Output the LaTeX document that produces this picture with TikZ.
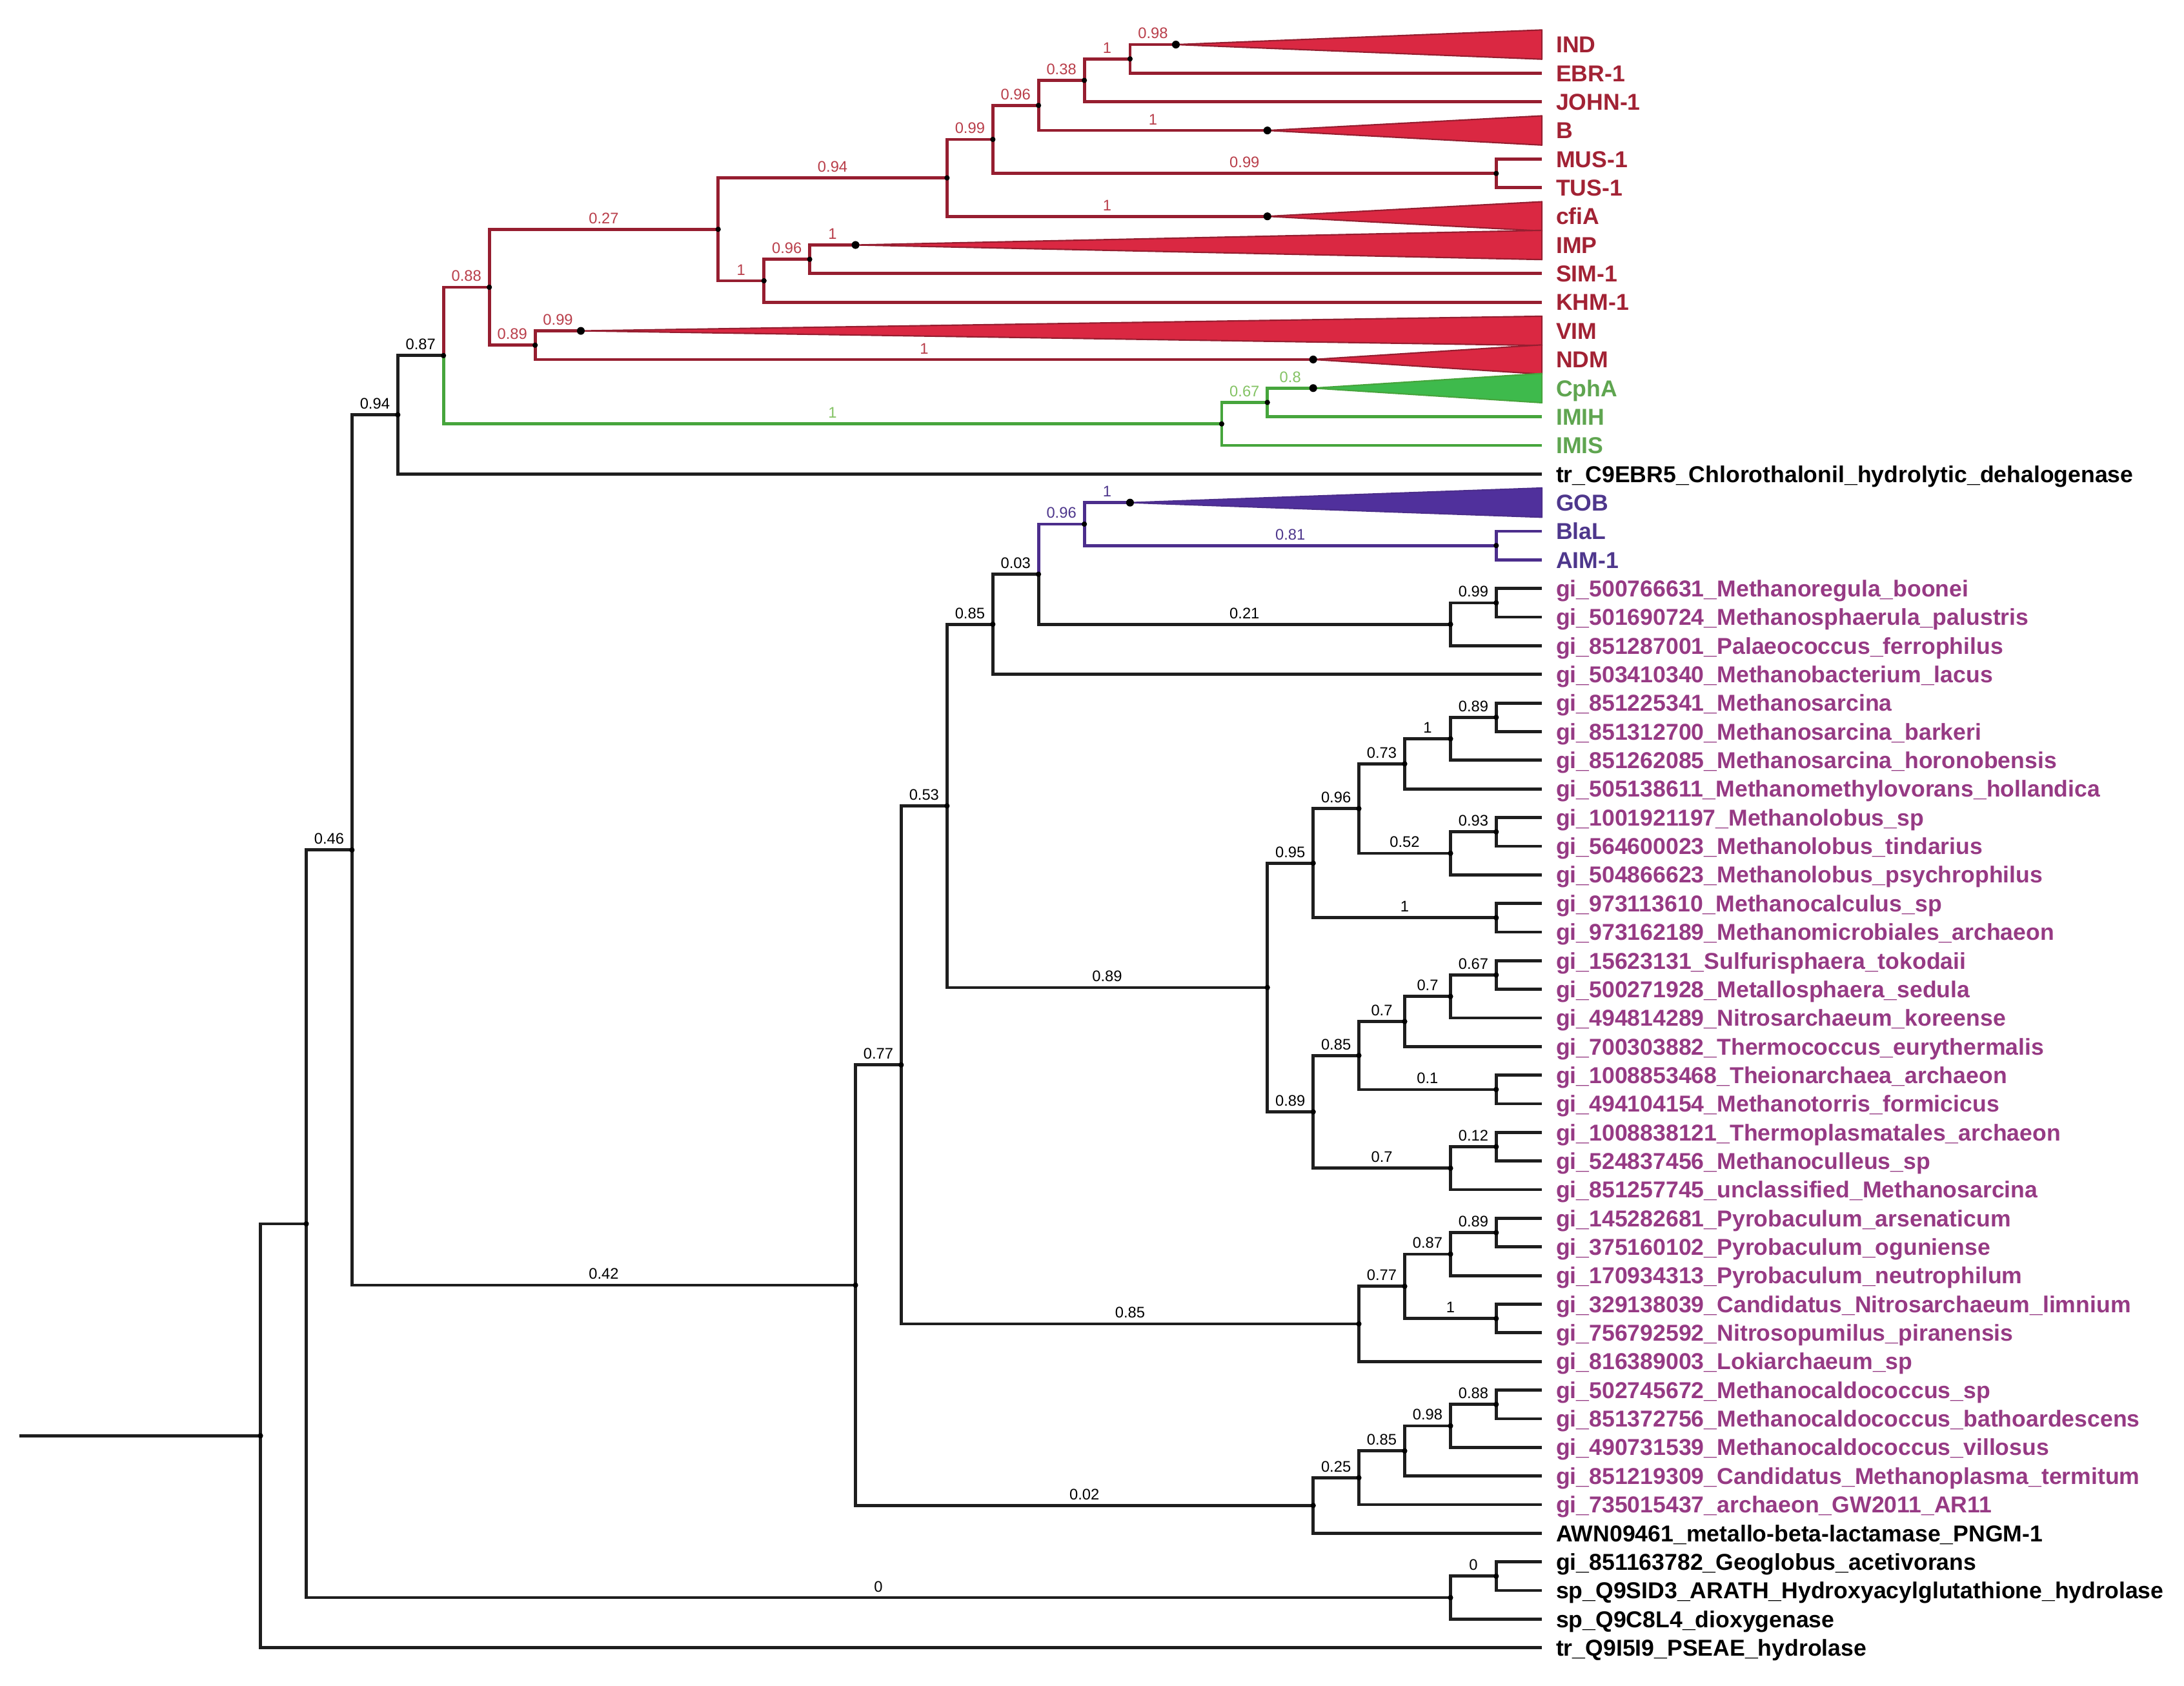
\documentclass[tikz,border=0pt]{standalone}
\usepackage{fontspec}
\setmainfont{Liberation Sans}
\definecolor{blackbr}{RGB}{30,30,30}
\definecolor{cladered}{RGB}{150,30,48}
\definecolor{trired}{RGB}{218,40,66}
\definecolor{labred}{RGB}{162,34,52}
\definecolor{supred}{RGB}{185,62,74}
\definecolor{cladegreen}{RGB}{70,165,60}
\definecolor{trigreen}{RGB}{62,186,76}
\definecolor{labgreen}{RGB}{95,165,80}
\definecolor{supgreen}{RGB}{132,195,100}
\definecolor{cladepurple}{RGB}{76,46,140}
\definecolor{tripurple}{RGB}{80,48,156}
\definecolor{labpurple}{RGB}{78,55,140}
\definecolor{labmagenta}{RGB}{150,58,132}

\begin{document}
\begin{tikzpicture}[x=1pt, y=-1pt,
    br/.style ={line width=2.2pt, draw=blackbr},
    redbr/.style ={br, draw=cladered},
    greenbr/.style ={br, draw=cladegreen},
    purplebr/.style ={br, draw=cladepurple},
    redtri/.style ={fill=trired, draw=cladered, line width=1pt, line join=round},
    greentri/.style ={fill=trigreen, draw=cladegreen, line width=1pt, line join=round},
    purpletri/.style ={fill=tripurple, draw=cladepurple, line width=1pt, line join=round},
    leaf/.style ={anchor=west, inner xsep=10pt, inner ysep=0pt, text height=11.8pt,
      text depth=0pt, font=\bfseries\fontsize{16.5}{18}\selectfont},
    sup/.style ={pos=0.75, above=3pt, inner sep=0pt, font=\fontsize{11}{12}\selectfont}]
   \path[fill=white, use as bounding box] (0,0) rectangle (1568,1210);

   % leaves
   \node[leaf, text=labred] (ind)  at (1107,32.00)  {IND};
   \node[leaf, text=labred] (ebr)  at (1107,52.55)  {EBR-1};
   \node[leaf, text=labred] (john) at (1107,73.10)  {JOHN-1};
   \node[leaf, text=labred] (b)    at (1107,93.65)  {B};
   \node[leaf, text=labred] (mus)  at (1107,114.20) {MUS-1};
   \node[leaf, text=labred] (tus)  at (1107,134.75) {TUS-1};
   \node[leaf, text=labred] (cfia) at (1107,155.30) {cfiA};
   \node[leaf, text=labred] (imp)  at (1107,175.85) {IMP};
   \node[leaf, text=labred] (sim)  at (1107,196.40) {SIM-1};
   \node[leaf, text=labred] (khm)  at (1107,216.95) {KHM-1};
   \node[leaf, text=labred] (vim)  at (1107,237.50) {VIM};
   \node[leaf, text=labred] (ndm)  at (1107,258.05) {NDM};
   \node[leaf, text=labgreen] (cpha) at (1107,278.60) {CphA};
   \node[leaf, text=labgreen] (imih) at (1107,299.15) {IMIH};
   \node[leaf, text=labgreen] (imis) at (1107,319.70) {IMIS};
   \node[leaf] (chlor) at (1107,340.25) {tr\_C9EBR5\_Chlorothalonil\_hydrolytic\_dehalogenase};
   \node[leaf, text=labpurple] (gob)  at (1107,360.80) {GOB};
   \node[leaf, text=labpurple] (blal) at (1107,381.35) {BlaL};
   \node[leaf, text=labpurple] (aim)  at (1107,401.90) {AIM-1};
   \node[leaf, text=labmagenta] (boonei)    at (1107,422.45) {gi\_500766631\_Methanoregula\_boonei};
   \node[leaf, text=labmagenta] (palustris) at (1107,443.00) {gi\_501690724\_Methanosphaerula\_palustris};
   \node[leaf, text=labmagenta] (ferro)     at (1107,463.55) {gi\_851287001\_Palaeococcus\_ferrophilus};
   \node[leaf, text=labmagenta] (lacus)     at (1107,484.10) {gi\_503410340\_Methanobacterium\_lacus};
   \node[leaf, text=labmagenta] (msarc)     at (1107,504.65) {gi\_851225341\_Methanosarcina};
   \node[leaf, text=labmagenta] (barkeri)   at (1107,525.20) {gi\_851312700\_Methanosarcina\_barkeri};
   \node[leaf, text=labmagenta] (horono)    at (1107,545.75) {gi\_851262085\_Methanosarcina\_horonobensis};
   \node[leaf, text=labmagenta] (holland)   at (1107,566.30) {gi\_505138611\_Methanomethylovorans\_hollandica};
   \node[leaf, text=labmagenta] (mlobsp)    at (1107,586.85) {gi\_1001921197\_Methanolobus\_sp};
   \node[leaf, text=labmagenta] (tindar)    at (1107,607.40) {gi\_564600023\_Methanolobus\_tindarius};
   \node[leaf, text=labmagenta] (psychro)   at (1107,627.95) {gi\_504866623\_Methanolobus\_psychrophilus};
   \node[leaf, text=labmagenta] (mcalc)     at (1107,648.50) {gi\_973113610\_Methanocalculus\_sp};
   \node[leaf, text=labmagenta] (mmicro)    at (1107,669.05) {gi\_973162189\_Methanomicrobiales\_archaeon};
   \node[leaf, text=labmagenta] (tokod)     at (1107,689.60) {gi\_15623131\_Sulfurisphaera\_tokodaii};
   \node[leaf, text=labmagenta] (sedula)    at (1107,710.15) {gi\_500271928\_Metallosphaera\_sedula};
   \node[leaf, text=labmagenta] (koreen)    at (1107,730.70) {gi\_494814289\_Nitrosarchaeum\_koreense};
   \node[leaf, text=labmagenta] (euryth)    at (1107,751.25) {gi\_700303882\_Thermococcus\_eurythermalis};
   \node[leaf, text=labmagenta] (theion)    at (1107,771.80) {gi\_1008853468\_Theionarchaea\_archaeon};
   \node[leaf, text=labmagenta] (formic)    at (1107,792.35) {gi\_494104154\_Methanotorris\_formicicus};
   \node[leaf, text=labmagenta] (tplasm)    at (1107,812.90) {gi\_1008838121\_Thermoplasmatales\_archaeon};
   \node[leaf, text=labmagenta] (mcull)     at (1107,833.45) {gi\_524837456\_Methanoculleus\_sp};
   \node[leaf, text=labmagenta] (unclass)   at (1107,854.00) {gi\_851257745\_unclassified\_Methanosarcina};
   \node[leaf, text=labmagenta] (arsen)     at (1107,874.55) {gi\_145282681\_Pyrobaculum\_arsenaticum};
   \node[leaf, text=labmagenta] (ogun)      at (1107,895.10) {gi\_375160102\_Pyrobaculum\_oguniense};
   \node[leaf, text=labmagenta] (neutro)    at (1107,915.65) {gi\_170934313\_Pyrobaculum\_neutrophilum};
   \node[leaf, text=labmagenta] (limn)      at (1107,936.20) {gi\_329138039\_Candidatus\_Nitrosarchaeum\_limnium};
   \node[leaf, text=labmagenta] (piran)     at (1107,956.75) {gi\_756792592\_Nitrosopumilus\_piranensis};
   \node[leaf, text=labmagenta] (loki)      at (1107,977.30) {gi\_816389003\_Lokiarchaeum\_sp};
   \node[leaf, text=labmagenta] (mcaldsp)   at (1107,997.85) {gi\_502745672\_Methanocaldococcus\_sp};
   \node[leaf, text=labmagenta] (bathoa)    at (1107,1018.40) {gi\_851372756\_Methanocaldococcus\_bathoardescens};
   \node[leaf, text=labmagenta] (villos)    at (1107,1038.95) {gi\_490731539\_Methanocaldococcus\_villosus};
   \node[leaf, text=labmagenta] (termit)    at (1107,1059.50) {gi\_851219309\_Candidatus\_Methanoplasma\_termitum};
   \node[leaf, text=labmagenta] (ar11)      at (1107,1080.05) {gi\_735015437\_archaeon\_GW2011\_AR11};
   \node[leaf] (pngm)    at (1107,1100.60) {AWN09461\_metallo-beta-lactamase\_PNGM-1};
   \node[leaf] (geoglob) at (1107,1121.15) {gi\_851163782\_Geoglobus\_acetivorans};
   \node[leaf] (hagh)    at (1107,1141.70) {sp\_Q9SID3\_ARATH\_Hydroxyacylglutathione\_hydrolase};
   \node[leaf] (dioxy)   at (1107,1162.25) {sp\_Q9C8L4\_dioxygenase};
   \node[leaf] (pseae)   at (1107,1182.80) {tr\_Q9I5I9\_PSEAE\_hydrolase};

   % internal nodes
   \coordinate (r)   at (14,1030.65);
   \coordinate (r0)  at (187,1030.65);
   \coordinate (n1)  at (219.9,878.50);
   \coordinate (n2)  at (252.7,610.15);
   \coordinate (n3)  at (285.6,297.75);
   \coordinate (n5)  at (318.4,255.24);
   \coordinate (n6)  at (351.3,206.19);
   \coordinate (n10) at (515.6,164.61);
   \coordinate (n13) at (679.9,127.69);
   \coordinate (n15) at (712.8,100.07);
   \coordinate (n16) at (745.6,75.67);
   \coordinate (n18) at (778.5,57.69);
   \coordinate (n19) at (811.3,42.28);
   \coordinate (cind) at (844.2,32.00);
   \coordinate (cb)   at (909.9,93.65);
   \coordinate (n17) at (1074.2,124.48);
   \coordinate (ccfia) at (909.9,155.30);
   \coordinate (n14) at (548.5,201.54);
   \coordinate (n20) at (581.3,186.13);
   \coordinate (cimp) at (614.2,175.85);
   \coordinate (n11) at (384.2,247.78);
   \coordinate (cvim) at (417.0,237.50);
   \coordinate (cndm) at (942.8,258.05);
   \coordinate (n7)  at (877.1,304.29);
   \coordinate (n8)  at (909.9,288.88);
   \coordinate (ccpha) at (942.8,278.60);
   \coordinate (n4)  at (614.2,922.55);
   \coordinate (n21) at (647.0,764.42);
   \coordinate (n27) at (679.9,578.50);
   \coordinate (n33) at (712.8,448.14);
   \coordinate (n35) at (745.6,412.18);
   \coordinate (n36) at (778.5,376.21);
   \coordinate (cgob) at (811.3,360.80);
   \coordinate (n38) at (1074.2,391.63);
   \coordinate (n37) at (1041.4,448.14);
   \coordinate (n39) at (1074.2,432.73);
   \coordinate (n34) at (909.9,708.87);
   \coordinate (n40) at (942.8,619.60);
   \coordinate (n42) at (975.6,580.43);
   \coordinate (n44) at (1008.5,548.32);
   \coordinate (n46) at (1041.4,530.34);
   \coordinate (n47) at (1074.2,514.93);
   \coordinate (n45) at (1041.4,612.54);
   \coordinate (n48) at (1074.2,597.13);
   \coordinate (n43) at (1074.2,658.78);
   \coordinate (n41) at (942.8,798.13);
   \coordinate (n49) at (975.6,757.67);
   \coordinate (n51) at (1008.5,733.27);
   \coordinate (n53) at (1041.4,715.29);
   \coordinate (n54) at (1074.2,699.88);
   \coordinate (n52) at (1074.2,782.08);
   \coordinate (n50) at (1041.4,838.59);
   \coordinate (n55) at (1074.2,823.18);
   \coordinate (n28) at (975.6,950.33);
   \coordinate (n29) at (1008.5,923.36);
   \coordinate (n30) at (1041.4,900.24);
   \coordinate (n32) at (1074.2,884.83);
   \coordinate (n31) at (1074.2,946.48);
   \coordinate (n22) at (942.8,1080.69);
   \coordinate (n23) at (975.6,1060.79);
   \coordinate (n24) at (1008.5,1041.52);
   \coordinate (n25) at (1041.4,1023.54);
   \coordinate (n26) at (1074.2,1008.13);
   \coordinate (ng)  at (1041.4,1146.84);
   \coordinate (ng2) at (1074.2,1131.43);

   % backbone
   \draw[br] (r) -- (r0);
   \draw[br] (r0) |- (n1);
   \draw[br] (r0) |- (pseae);
   \draw[br] (n1) |- (n2) node[sup] {0.46};
   \draw[br] (n1) |- (ng) node[sup] {0};
   \draw[br] (ng) |- (ng2) node[sup] {0};
   \draw[br] (ng) |- (dioxy);
   \draw[br] (ng2) |- (geoglob);
   \draw[br] (ng2) |- (hagh);
   \draw[br] (n2) |- (n3) node[sup] {0.94};
   \draw[br] (n2) |- (n4) node[sup] {0.42};
   \draw[br] (n3) |- (n5) node[sup] {0.87};
   \draw[br] (n3) |- (chlor);

   % red clade
   \draw[redbr] (n5) |- (n6) node[sup, text=supred] {0.88};
   \draw[redbr] (n6) |- (n10) node[sup, text=supred] {0.27};
   \draw[redbr] (n6) |- (n11) node[sup, text=supred] {0.89};
   \draw[redbr] (n11) |- (cvim) node[sup, text=supred] {0.99};
   \draw[redbr] (n11) |- (cndm) node[sup, text=supred] {1};
   \draw[redbr] (n10) |- (n13) node[sup, text=supred] {0.94};
   \draw[redbr] (n10) |- (n14) node[sup, text=supred] {1};
   \draw[redbr] (n14) |- (n20) node[sup, text=supred] {0.96};
   \draw[redbr] (n14) |- (khm);
   \draw[redbr] (n20) |- (cimp) node[sup, text=supred] {1};
   \draw[redbr] (n20) |- (sim);
   \draw[redbr] (n13) |- (n15) node[sup, text=supred] {0.99};
   \draw[redbr] (n13) |- (ccfia) node[sup, text=supred] {1};
   \draw[redbr] (n15) |- (n16) node[sup, text=supred] {0.96};
   \draw[redbr] (n15) |- (n17) node[sup, text=supred] {0.99};
   \draw[redbr] (n17) |- (mus);
   \draw[redbr] (n17) |- (tus);
   \draw[redbr] (n16) |- (n18) node[sup, text=supred] {0.38};
   \draw[redbr] (n16) |- (cb) node[sup, text=supred] {1};
   \draw[redbr] (n18) |- (n19) node[sup, text=supred] {1};
   \draw[redbr] (n18) |- (john);
   \draw[redbr] (n19) |- (cind) node[sup, text=supred] {0.98};
   \draw[redbr] (n19) |- (ebr);

   % green clade
   \draw[greenbr] (n5) |- (n7) node[sup, text=supgreen] {1};
   \draw[greenbr] (n7) |- (n8) node[sup, text=supgreen] {0.67};
   \draw[greenbr] (n7) |- (imis);
   \draw[greenbr] (n8) |- (ccpha) node[sup, text=supgreen] {0.8};
   \draw[greenbr] (n8) |- (imih);

   % lower part
   \draw[br] (n4) |- (n21) node[sup] {0.77};
   \draw[br] (n4) |- (n22) node[sup] {0.02};
   \draw[br] (n21) |- (n27) node[sup] {0.53};
   \draw[br] (n21) |- (n28) node[sup] {0.85};
   \draw[br] (n27) |- (n33) node[sup] {0.85};
   \draw[br] (n27) |- (n34) node[sup] {0.89};
   \draw[br] (n33) |- (n35) node[sup] {0.03};
   \draw[br] (n33) |- (lacus);
   \draw[purplebr] (n35) |- (n36) node[sup, text=labpurple] {0.96};
   \draw[purplebr] (n36) |- (cgob) node[sup, text=labpurple] {1};
   \draw[purplebr] (n36) |- (n38) node[sup, text=labpurple] {0.81};
   \draw[purplebr] (n38) |- (blal);
   \draw[purplebr] (n38) |- (aim);
   \draw[br] (n35) |- (n37) node[sup] {0.21};
   \draw[br] (n37) |- (n39) node[sup] {0.99};
   \draw[br] (n37) |- (ferro);
   \draw[br] (n39) |- (boonei);
   \draw[br] (n39) |- (palustris);
   \draw[br] (n34) |- (n40) node[sup] {0.95};
   \draw[br] (n34) |- (n41) node[sup] {0.89};
   \draw[br] (n40) |- (n42) node[sup] {0.96};
   \draw[br] (n40) |- (n43) node[sup] {1};
   \draw[br] (n42) |- (n44) node[sup] {0.73};
   \draw[br] (n42) |- (n45) node[sup] {0.52};
   \draw[br] (n44) |- (n46) node[sup] {1};
   \draw[br] (n44) |- (holland);
   \draw[br] (n46) |- (n47) node[sup] {0.89};
   \draw[br] (n46) |- (horono);
   \draw[br] (n47) |- (msarc);
   \draw[br] (n47) |- (barkeri);
   \draw[br] (n45) |- (n48) node[sup] {0.93};
   \draw[br] (n45) |- (psychro);
   \draw[br] (n48) |- (mlobsp);
   \draw[br] (n48) |- (tindar);
   \draw[br] (n43) |- (mcalc);
   \draw[br] (n43) |- (mmicro);
   \draw[br] (n41) |- (n49) node[sup] {0.85};
   \draw[br] (n41) |- (n50) node[sup] {0.7};
   \draw[br] (n49) |- (n51) node[sup] {0.7};
   \draw[br] (n49) |- (n52) node[sup] {0.1};
   \draw[br] (n51) |- (n53) node[sup] {0.7};
   \draw[br] (n51) |- (euryth);
   \draw[br] (n53) |- (n54) node[sup] {0.67};
   \draw[br] (n53) |- (koreen);
   \draw[br] (n54) |- (tokod);
   \draw[br] (n54) |- (sedula);
   \draw[br] (n52) |- (theion);
   \draw[br] (n52) |- (formic);
   \draw[br] (n50) |- (n55) node[sup] {0.12};
   \draw[br] (n50) |- (unclass);
   \draw[br] (n55) |- (tplasm);
   \draw[br] (n55) |- (mcull);
   \draw[br] (n28) |- (n29) node[sup] {0.77};
   \draw[br] (n28) |- (loki);
   \draw[br] (n29) |- (n30) node[sup] {0.87};
   \draw[br] (n29) |- (n31) node[sup] {1};
   \draw[br] (n30) |- (n32) node[sup] {0.89};
   \draw[br] (n30) |- (neutro);
   \draw[br] (n32) |- (arsen);
   \draw[br] (n32) |- (ogun);
   \draw[br] (n31) |- (limn);
   \draw[br] (n31) |- (piran);
   \draw[br] (n22) |- (n23) node[sup] {0.25};
   \draw[br] (n22) |- (pngm);
   \draw[br] (n23) |- (n24) node[sup] {0.85};
   \draw[br] (n23) |- (ar11);
   \draw[br] (n24) |- (n25) node[sup] {0.98};
   \draw[br] (n24) |- (termit);
   \draw[br] (n25) |- (n26) node[sup] {0.88};
   \draw[br] (n25) |- (villos);
   \draw[br] (n26) |- (mcaldsp);
   \draw[br] (n26) |- (bathoa);

   % collapsed clades
   \filldraw[redtri] (cind) -- ([yshift=10.5pt]ind.west) -- ([yshift=-10.5pt]ind.west) -- cycle;
   \filldraw[redtri] (cb) -- ([yshift=10.5pt]b.west) -- ([yshift=-10.5pt]b.west) -- cycle;
   \filldraw[redtri] (ccfia) -- ([yshift=10.5pt]cfia.west) -- ([yshift=-10.5pt]cfia.west) -- cycle;
   \filldraw[redtri] (cimp) -- ([yshift=10.5pt]imp.west) -- ([yshift=-10.5pt]imp.west) -- cycle;
   \filldraw[redtri] (cvim) -- ([yshift=10.5pt]vim.west) -- ([yshift=-10.5pt]vim.west) -- cycle;
   \filldraw[redtri] (cndm) -- ([yshift=10.5pt]ndm.west) -- ([yshift=-10.5pt]ndm.west) -- cycle;
   \filldraw[greentri] (ccpha) -- ([yshift=10.5pt]cpha.west) -- ([yshift=-10.5pt]cpha.west) -- cycle;
   \filldraw[purpletri] (cgob) -- ([yshift=10.5pt]gob.west) -- ([yshift=-10.5pt]gob.west) -- cycle;

   % node dots
   \foreach \n in {r0,n1,n2,n3,n5,n6,n10,n13,n15,n16,n18,n19,n17,n14,n20,n11,n7,n8,
     n4,n21,n27,n33,n35,n36,n38,n37,n39,n34,n40,n42,n44,n46,n47,n45,n48,n43,n41,n49,
     n51,n53,n54,n52,n50,n55,n28,n29,n30,n32,n31,n22,n23,n24,n25,n26,ng,ng2}
     \fill (\n) circle (1.9pt);
   \foreach \n in {cind,cb,ccfia,cimp,cvim,cndm,ccpha,cgob}
     \fill (\n) circle (2.8pt);
 \end{tikzpicture}
\end{document}
